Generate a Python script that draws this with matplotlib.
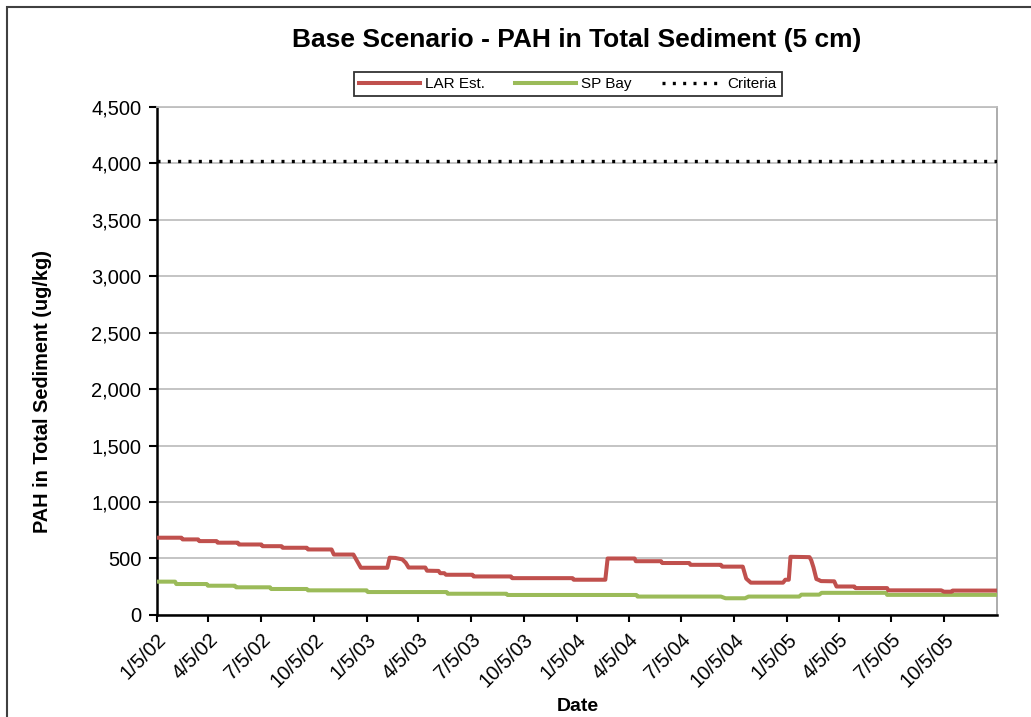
import numpy as np
import pandas as pd
import matplotlib
matplotlib.use("Agg")
import matplotlib.pyplot as plt
from matplotlib.patches import Rectangle
from matplotlib.ticker import FuncFormatter

plt.rcParams['font.family'] = ['Liberation Sans', 'DejaVu Sans']

# LAR Est. (ug/kg)
lar_dates = ['2002-01-05', '2002-02-17', '2002-02-19', '2002-03-18', '2002-03-20',
             '2002-04-19', '2002-04-21', '2002-05-26', '2002-05-28', '2002-07-06',
             '2002-07-08', '2002-08-10', '2002-08-12', '2002-09-23', '2002-09-25',
             '2002-11-05', '2002-11-09', '2002-12-13', '2002-12-26', '2003-02-10',
             '2003-02-14', '2003-02-24', '2003-03-08', '2003-03-14', '2003-03-19',
             '2003-04-17', '2003-04-20', '2003-05-10', '2003-05-13', '2003-05-20',
             '2003-05-23', '2003-07-08', '2003-07-10', '2003-09-13', '2003-09-15',
             '2003-12-29', '2003-12-31', '2004-02-24', '2004-02-28', '2004-04-15',
             '2004-04-17', '2004-05-31', '2004-06-02', '2004-07-19', '2004-07-21',
             '2004-09-12', '2004-09-14', '2004-10-20', '2004-10-26', '2004-11-03',
             '2004-12-29', '2005-01-02', '2005-01-08', '2005-01-11', '2005-02-13',
             '2005-02-16', '2005-02-20', '2005-02-25', '2005-03-01', '2005-03-05',
             '2005-03-28', '2005-04-01', '2005-05-02', '2005-05-04', '2005-06-28',
             '2005-06-30', '2005-09-30', '2005-10-05', '2005-10-18', '2005-10-20',
             '2006-01-05']
lar_vals = [684, 684, 669, 669, 654,
            654, 640, 640, 624, 624,
            609, 609, 595, 595, 580,
            580, 535, 535, 418, 418,
            507, 505, 492, 462, 420,
            420, 392, 390, 370, 370,
            356, 356, 341, 341, 326,
            326, 312, 312, 500, 500,
            476, 476, 460, 460, 444,
            444, 428, 428, 322, 286,
            286, 312, 312, 515, 512,
            485, 420, 318, 310, 300,
            298, 252, 252, 238, 238,
            218, 218, 206, 206, 216,
            216]

# SP Bay (ug/kg)
sp_dates = ['2002-01-05', '2002-02-06', '2002-02-08', '2002-04-02', '2002-04-04',
            '2002-05-21', '2002-05-23', '2002-07-21', '2002-07-23', '2002-09-23',
            '2002-09-25', '2003-01-05', '2003-01-07', '2003-05-24', '2003-05-26',
            '2003-09-05', '2003-09-07', '2004-04-18', '2004-04-20', '2004-09-12',
            '2004-09-20', '2004-10-24', '2004-10-30', '2005-01-26', '2005-01-30',
            '2005-03-02', '2005-03-06', '2005-06-26', '2005-06-28', '2006-01-05']
sp_vals = [295, 295, 274, 274, 259,
           259, 245, 245, 230, 230,
           218, 218, 203, 203, 188,
           188, 177, 177, 163, 163,
           148, 148, 163, 163, 180,
           180, 196, 196, 178, 178]

criteria = 4020

tick_labels = ['1/5/02', '4/5/02', '7/5/02', '10/5/02',
               '1/5/03', '4/5/03', '7/5/03', '10/5/03',
               '1/5/04', '4/5/04', '7/5/04', '10/5/04',
               '1/5/05', '4/5/05', '7/5/05', '10/5/05']
y_ticks = [0, 500, 1000, 1500, 2000, 2500, 3000, 3500, 4000, 4500]

fig = plt.figure(figsize=(10.31, 7.17), dpi=100)
ax = fig.add_axes([0.152, 0.1423, 0.815, 0.7089])

ax.plot(pd.to_datetime(lar_dates), lar_vals, color='#C0504D', lw=2.9,
        solid_joinstyle='round', label='LAR Est.', zorder=4)
ax.plot(pd.to_datetime(sp_dates), sp_vals, color='#9BBB59', lw=2.9,
        solid_joinstyle='round', label='SP Bay', zorder=3)
ax.axhline(criteria, color='black', lw=2.4, linestyle=(0, (0.9, 2.2)),
           label='Criteria', zorder=5)

ax.set_xlim(pd.Timestamp('2002-01-05'), pd.Timestamp('2006-01-05'))
ax.set_ylim(0, 4500)
ax.set_yticks(y_ticks)
ax.yaxis.set_major_formatter(FuncFormatter(lambda v, p: f'{int(v):,}'))
ax.set_xticks(pd.to_datetime(tick_labels, format='%m/%d/%y'))
ax.set_xticklabels(tick_labels, rotation=45, ha='right', rotation_mode='anchor')

ax.grid(axis='y', color='#BFBFBF', lw=1.3)
ax.set_axisbelow(True)
for s in ['left', 'bottom']:
    ax.spines[s].set_color('black')
    ax.spines[s].set_linewidth(1.8)
ax.spines['right'].set_color('#A6A6A6')
ax.spines['right'].set_linewidth(1.3)
ax.spines['top'].set_color('#BFBFBF')
ax.spines['top'].set_linewidth(1.3)

ax.tick_params(axis='y', direction='out', length=6, width=1.5, labelsize=14.5, pad=5)
ax.tick_params(axis='x', direction='out', length=5, width=1.5, labelsize=14.5, pad=6)

ax.set_ylabel('PAH in Total Sediment (ug/kg)', fontsize=14.3, fontweight='bold')
ax.yaxis.set_label_coords(-0.125, 0.44)
ax.set_xlabel('Date', fontsize=14, fontweight='bold')
ax.xaxis.set_label_coords(0.501, -0.163)

fig.text(0.5595, 0.944, 'Base Scenario - PAH in Total Sediment (5 cm)',
         ha='center', va='center', fontsize=19, fontweight='bold')

leg = fig.legend(loc='center', bbox_to_anchor=(0.551, 0.883), ncol=3,
                 fontsize=11, frameon=True, fancybox=False, edgecolor='black',
                 handlelength=4.0, columnspacing=2.0, handletextpad=0.3,
                 borderpad=0.35)
leg.get_frame().set_linewidth(1.3)

# outer chart border
fig.patches.append(Rectangle((7 / 1031, -0.1), 1.2, 1.1 - 7 / 717,
                             transform=fig.transFigure, fill=False,
                             edgecolor='#404040', lw=1.5))

fig.savefig('out.png', dpi=100)
